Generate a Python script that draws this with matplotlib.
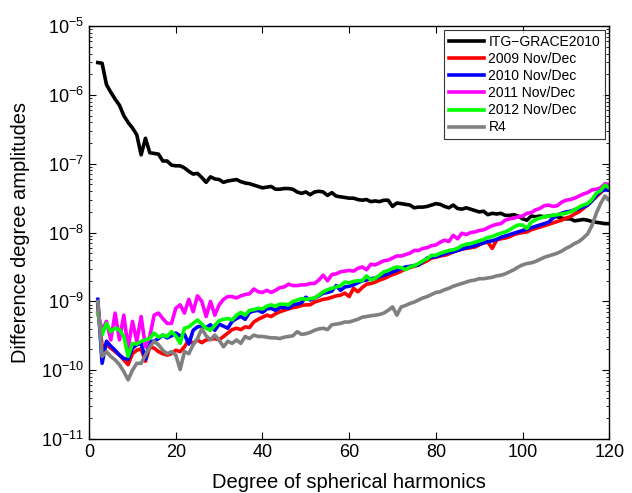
import numpy as np
import matplotlib
matplotlib.use("Agg")
import matplotlib.pyplot as plt
from matplotlib.ticker import LogLocator, FixedLocator, NullLocator

plt.rcParams["font.family"] = ["Liberation Sans", "DejaVu Sans"]

degrees = list(range(2, 121))

# log10 of the difference degree amplitudes, degree 2..120
itg_grace2010 = [
    -5.53, -5.54, -5.85, -5.96, -6.06, -6.15, -6.30, -6.40, -6.48, -6.58,
    -6.87, -6.63, -6.84, -6.85, -6.86, -6.96, -6.96, -7.02, -7.03, -7.03,
    -7.06, -7.11, -7.15, -7.14, -7.20, -7.27, -7.19, -7.22, -7.23, -7.27,
    -7.25, -7.24, -7.23, -7.26, -7.28, -7.29, -7.31, -7.33, -7.35, -7.34,
    -7.33, -7.37, -7.37, -7.36, -7.36, -7.37, -7.41, -7.43, -7.41, -7.45,
    -7.41, -7.40, -7.41, -7.46, -7.42, -7.47, -7.48, -7.49, -7.50, -7.50,
    -7.52, -7.53, -7.52, -7.55, -7.54, -7.55, -7.53, -7.53, -7.62, -7.57,
    -7.58, -7.59, -7.60, -7.64, -7.63, -7.63, -7.62, -7.60, -7.58, -7.59,
    -7.62, -7.64, -7.60, -7.65, -7.66, -7.64, -7.66, -7.68, -7.70, -7.69,
    -7.74, -7.72, -7.73, -7.72, -7.75, -7.75, -7.74, -7.76, -7.80, -7.82,
    -7.76, -7.77, -7.76, -7.77, -7.76, -7.75, -7.77, -7.79, -7.80, -7.80,
    -7.83, -7.82, -7.81, -7.82, -7.84, -7.85, -7.86, -7.87, -7.87,
]

nov_dec_2009 = [
    -9.05, -9.66, -9.63, -9.68, -9.73, -9.78, -9.85, -9.92, -9.76, -9.71,
    -9.69, -9.87, -9.66, -9.68, -9.73, -9.76, -9.78, -9.76, -9.71, -9.73,
    -9.66, -9.56, -9.61, -9.56, -9.60, -9.56, -9.55, -9.54, -9.56, -9.51,
    -9.46, -9.41, -9.39, -9.41, -9.37, -9.38, -9.30, -9.26, -9.23, -9.20,
    -9.22, -9.18, -9.15, -9.13, -9.11, -9.09, -9.08, -9.06, -9.05, -9.05,
    -9.01, -8.99, -8.97, -8.96, -8.94, -8.92, -8.91, -8.88, -8.93, -8.81,
    -8.86, -8.80, -8.75, -8.74, -8.72, -8.69, -8.67, -8.64, -8.61, -8.59,
    -8.56, -8.53, -8.51, -8.49, -8.47, -8.44, -8.41, -8.37, -8.36, -8.34,
    -8.33, -8.31, -8.28, -8.26, -8.24, -8.23, -8.22, -8.21, -8.18, -8.15,
    -8.14, -8.23, -8.11, -8.09, -8.08, -8.06, -8.03, -8.01, -8.00, -7.99,
    -7.96, -7.94, -7.92, -7.90, -7.88, -7.86, -7.84, -7.82, -7.79, -7.77,
    -7.73, -7.70, -7.65, -7.60, -7.54, -7.48, -7.42, -7.36, -7.37,
]

nov_dec_2010 = [
    -8.97, -9.90, -9.58, -9.65, -9.71, -9.78, -9.83, -9.84, -9.68, -9.63,
    -9.61, -9.84, -9.58, -9.58, -9.54, -9.49, -9.53, -9.50, -9.46, -9.50,
    -9.48, -9.62, -9.42, -9.37, -9.36, -9.38, -9.34, -9.42, -9.33, -9.36,
    -9.39, -9.29, -9.25, -9.22, -9.26, -9.16, -9.14, -9.13, -9.16, -9.11,
    -9.10, -9.13, -9.09, -9.09, -9.10, -9.05, -9.04, -9.02, -8.94, -8.98,
    -8.95, -8.92, -8.88, -8.87, -8.85, -8.77, -8.84, -8.79, -8.78, -8.76,
    -8.73, -8.70, -8.69, -8.67, -8.66, -8.64, -8.62, -8.60, -8.57, -8.55,
    -8.52, -8.50, -8.49, -8.48, -8.47, -8.42, -8.37, -8.36, -8.35, -8.33,
    -8.31, -8.29, -8.28, -8.26, -8.24, -8.22, -8.21, -8.19, -8.17, -8.15,
    -8.13, -8.12, -8.10, -8.07, -8.05, -8.03, -8.01, -7.99, -7.97, -7.95,
    -7.93, -7.91, -7.89, -7.87, -7.85, -7.79, -7.75, -7.72, -7.70, -7.69,
    -7.67, -7.65, -7.63, -7.60, -7.54, -7.46, -7.40, -7.38, -7.38,
]

nov_dec_2011 = [
    -9.17, -9.42, -9.29, -9.56, -9.17, -9.56, -9.20, -9.68, -9.29, -9.58,
    -9.22, -9.66, -9.51, -9.20, -9.17, -9.25, -9.32, -9.32, -9.10, -9.05,
    -9.17, -8.97, -9.15, -8.92, -9.00, -9.22, -9.00, -9.20, -9.05, -8.97,
    -8.93, -8.93, -8.95, -8.92, -8.90, -8.89, -8.82, -8.86, -8.87, -8.84,
    -8.87, -8.84, -8.80, -8.79, -8.75, -8.77, -8.77, -8.76, -8.76, -8.74,
    -8.74, -8.69, -8.62, -8.70, -8.61, -8.60, -8.57, -8.56, -8.55, -8.56,
    -8.52, -8.50, -8.54, -8.46, -8.47, -8.44, -8.41, -8.40, -8.37, -8.34,
    -8.34, -8.32, -8.30, -8.26, -8.26, -8.23, -8.22, -8.19, -8.18, -8.14,
    -8.11, -8.13, -8.04, -8.09, -8.01, -8.03, -8.00, -7.99, -7.97, -7.96,
    -7.93, -7.90, -7.88, -7.87, -7.82, -7.80, -7.79, -7.77, -7.76, -7.72,
    -7.71, -7.67, -7.65, -7.61, -7.60, -7.62, -7.61, -7.56, -7.53, -7.52,
    -7.50, -7.47, -7.44, -7.42, -7.38, -7.37, -7.35, -7.29, -7.30,
]

nov_dec_2012 = [
    -9.17, -9.49, -9.32, -9.44, -9.39, -9.41, -9.51, -9.80, -9.61, -9.62,
    -9.58, -9.56, -9.54, -9.46, -9.52, -9.49, -9.51, -9.44, -9.50, -9.61,
    -9.39, -9.37, -9.32, -9.27, -9.33, -9.39, -9.42, -9.35, -9.28, -9.26,
    -9.25, -9.27, -9.20, -9.16, -9.20, -9.13, -9.12, -9.10, -9.11, -9.07,
    -9.05, -9.07, -9.04, -9.04, -9.05, -9.00, -8.98, -8.96, -8.97, -8.96,
    -8.95, -8.91, -8.86, -8.83, -8.81, -8.79, -8.77, -8.72, -8.73, -8.71,
    -8.70, -8.70, -8.63, -8.69, -8.66, -8.62, -8.57, -8.55, -8.52, -8.50,
    -8.51, -8.54, -8.50, -8.48, -8.45, -8.41, -8.38, -8.33, -8.33, -8.30,
    -8.28, -8.26, -8.25, -8.23, -8.19, -8.17, -8.16, -8.14, -8.12, -8.10,
    -8.07, -8.06, -8.03, -8.01, -7.99, -7.96, -7.92, -7.89, -7.89, -7.94,
    -7.85, -7.81, -7.79, -7.77, -7.76, -7.75, -7.74, -7.73, -7.72, -7.70,
    -7.67, -7.63, -7.60, -7.58, -7.52, -7.43, -7.39, -7.31, -7.35,
]

r4 = [
    -9.00, -9.80, -9.73, -9.80, -9.85, -9.92, -10.02, -10.14, -10.00, -9.90,
    -9.90, -9.78, -9.66, -9.58, -9.63, -9.71, -9.76, -9.73, -9.78, -9.99,
    -9.73, -9.76, -9.63, -9.54, -9.40, -9.50, -9.56, -9.49, -9.56, -9.66,
    -9.58, -9.61, -9.56, -9.61, -9.51, -9.54, -9.49, -9.51, -9.51, -9.52,
    -9.53, -9.53, -9.54, -9.52, -9.51, -9.50, -9.44, -9.48, -9.47, -9.45,
    -9.42, -9.40, -9.39, -9.41, -9.34, -9.33, -9.32, -9.30, -9.30, -9.28,
    -9.26, -9.23, -9.22, -9.21, -9.20, -9.19, -9.17, -9.13, -9.08, -9.20,
    -9.08, -9.06, -9.03, -9.01, -8.98, -8.95, -8.93, -8.90, -8.87, -8.86,
    -8.83, -8.81, -8.78, -8.76, -8.74, -8.72, -8.70, -8.69, -8.67, -8.67,
    -8.66, -8.65, -8.63, -8.62, -8.60, -8.57, -8.54, -8.50, -8.47, -8.45,
    -8.44, -8.42, -8.39, -8.36, -8.34, -8.32, -8.30, -8.27, -8.23, -8.20,
    -8.16, -8.13, -8.08, -8.02, -7.90, -7.72, -7.58, -7.47, -7.53,
]

labels = ["ITG\u2212GRACE2010", "2009 Nov/Dec", "2010 Nov/Dec",
          "2011 Nov/Dec", "2012 Nov/Dec", "R4"]
colors = ["black", "#ff0000", "#0000ff", "#ff00ff", "#00ff00", "#808080"]
x_ticks = [0, 20, 40, 60, 80, 100, 120]

fig = plt.figure(figsize=(6.32, 4.93), dpi=100)
ax = fig.add_axes([0.141, 0.1095, 0.823, 0.8375])

series = [itg_grace2010, nov_dec_2009, nov_dec_2010, nov_dec_2011, nov_dec_2012, r4]
for vals, lab, col in zip(series, labels, colors):
    ax.semilogy(degrees, 10.0 ** np.array(vals), color=col, lw=2.6, label=lab)

ax.set_xlim(0, 120)
ax.set_ylim(1e-11, 1e-5)
ax.xaxis.set_major_locator(FixedLocator(x_ticks))
ax.xaxis.set_minor_locator(NullLocator())
ax.yaxis.set_major_locator(LogLocator(base=10, numticks=10))
ax.yaxis.set_minor_locator(LogLocator(base=10, subs=np.arange(2, 10), numticks=20))

ax.tick_params(which="both", direction="in", top=True, right=True, labelsize=13)
ax.tick_params(which="major", length=5, width=0.8)
ax.tick_params(which="minor", length=2.5, width=0.6)
for sp in ax.spines.values():
    sp.set_linewidth(1.0)

ax.set_xlabel("Degree of spherical harmonics", fontsize=14.5, labelpad=9)
ax.set_ylabel("Difference degree amplitudes", fontsize=14.4, labelpad=8)

leg = ax.legend(loc="upper right", fontsize=10, frameon=True, fancybox=False,
                edgecolor="black", handlelength=2.5, borderaxespad=0.3,
                labelspacing=0.22, handletextpad=0.35, borderpad=0.35)
leg.get_frame().set_linewidth(0.8)
for line in leg.get_lines():
    line.set_linewidth(2.6)

fig.savefig("out.png", dpi=100)
